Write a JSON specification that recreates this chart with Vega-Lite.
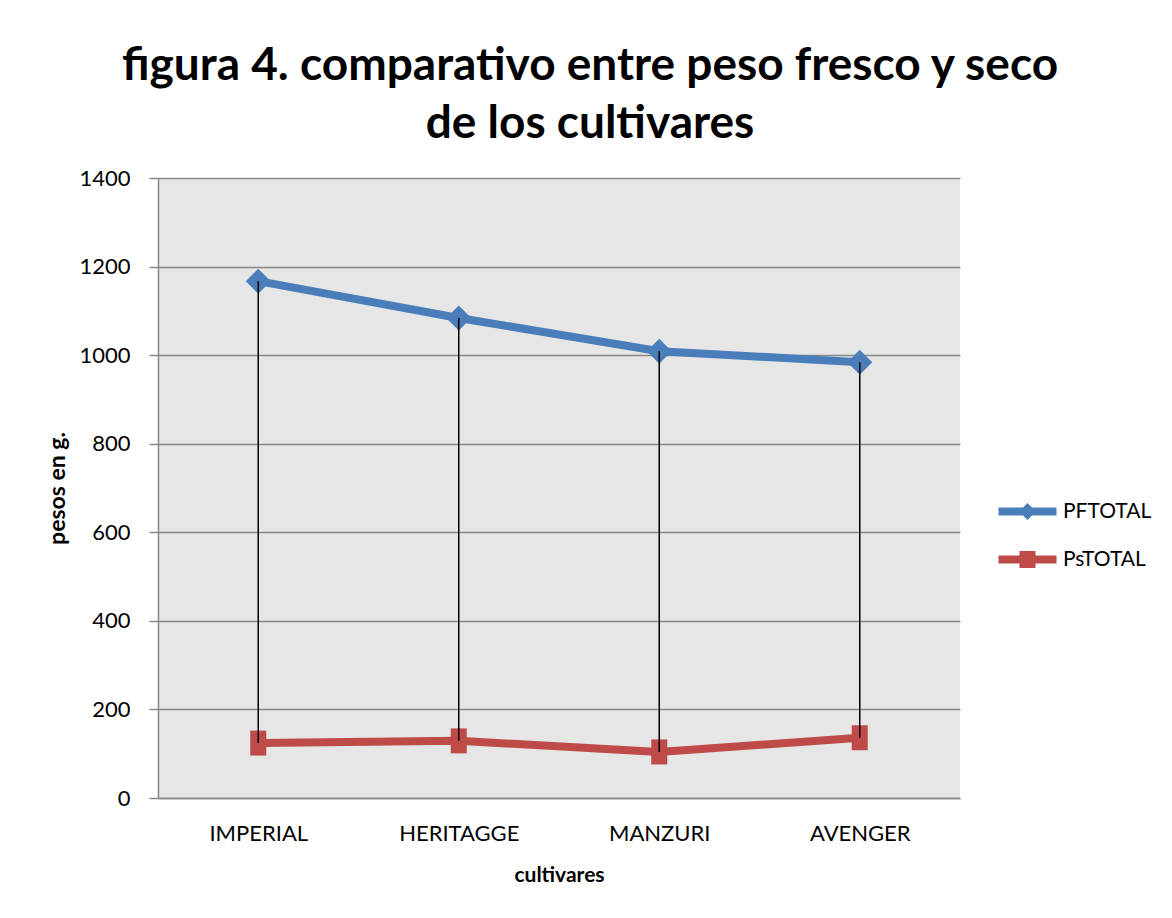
{
  "$schema": "https://vega.github.io/schema/vega-lite/v6.json",
  "width": 802,
  "height": 620,
  "autosize": "none",
  "padding": {"left": 158, "top": 178, "right": 212, "bottom": 120},
  "background": "white",
  "config": {
    "view": {"fill": "#E6E6E6", "stroke": null},
    "font": "Lato",
    "legend": {
      "title": null,
      "orient": "none",
      "symbolSize": 400,
      "symbolStrokeWidth": 0,
      "symbolOpacity": 1,
      "labelFont": "Lato",
      "labelFontSize": 21,
      "labelColor": "black",
      "labelOffset": 25
    }
  },
  "title": {
    "text": ["figura 4. comparativo entre peso fresco y seco", "de los cultivares"],
    "font": "Lato",
    "fontSize": 46,
    "fontWeight": "bold",
    "color": "black",
    "anchor": "middle",
    "dx": 31,
    "lineHeight": 58,
    "offset": 19
  },
  "data": {
    "values": [
      {"cultivar": "IMPERIAL", "PFTOTAL": 1167, "PsTOTAL": 124},
      {"cultivar": "HERITAGGE", "PFTOTAL": 1084, "PsTOTAL": 129},
      {"cultivar": "MANZURI", "PFTOTAL": 1009, "PsTOTAL": 104},
      {"cultivar": "AVENGER", "PFTOTAL": 984, "PsTOTAL": 136}
    ]
  },
  "encoding": {
    "x": {
      "field": "cultivar",
      "type": "nominal",
      "sort": null,
      "scale": {"type": "point", "padding": 0.5},
      "axis": {
        "title": "cultivares",
        "labelAngle": 0,
        "labelFont": "Lato",
        "labelFontSize": 22,
        "labelColor": "black",
        "labelPadding": 25,
        "ticks": false,
        "domainColor": "#888888",
        "domainWidth": 1.5,
        "titleFont": "Lato",
        "titleFontSize": 21,
        "titleFontWeight": "bold",
        "titleColor": "black",
        "titlePadding": 20
      }
    }
  },
  "layer": [
    {
      "mark": {"type": "line", "strokeWidth": 8},
      "encoding": {
        "y": {
          "field": "PFTOTAL",
          "type": "quantitative",
          "scale": {"domain": [0, 1400], "nice": false},
          "axis": {
            "values": [0, 200, 400, 600, 800, 1000, 1200, 1400],
            "format": "d",
            "grid": true,
            "gridColor": "#888888",
            "gridWidth": 1.5,
            "domainColor": "#888888",
            "domainWidth": 1.5,
            "tickColor": "#888888",
            "tickWidth": 1.5,
            "tickSize": 9,
            "labelFont": "Lato",
            "labelFontSize": 22,
            "labelColor": "black",
            "labelPadding": 19,
            "title": "pesos en g.",
            "titleFont": "Lato",
            "titleFontSize": 23,
            "titleFontWeight": "bold",
            "titleColor": "black",
            "titlePadding": 9
          }
        },
        "color": {
          "datum": "PFTOTAL",
          "type": "nominal",
          "scale": {"range": ["#4A7EBB"]},
          "legend": {
            "legendX": 859,
            "legendY": 323,
            "symbolType": "M-2.9,-0.4L-0.45,-0.4L0,-0.85L0.45,-0.4L2.9,-0.4L2.9,0.4L0.45,0.4L0,0.85L-0.45,0.4L-2.9,0.4Z",
            "symbolFillColor": "#4A7EBB",
            "symbolStrokeColor": "#4A7EBB"
          }
        }
      }
    },
    {
      "mark": {"type": "point", "filled": true, "opacity": 1, "size": 625, "shape": "diamond", "color": "#4A7EBB"},
      "encoding": {
        "y": {"field": "PFTOTAL", "type": "quantitative", "title": "pesos en g."}
      }
    },
    {
      "mark": {"type": "line", "strokeWidth": 8},
      "encoding": {
        "y": {"field": "PsTOTAL", "type": "quantitative", "title": "pesos en g."},
        "color": {
          "datum": "PsTOTAL",
          "type": "nominal",
          "scale": {"range": ["#BE4B48"]},
          "legend": {
            "legendX": 859,
            "legendY": 371,
            "symbolType": "M-2.9,-0.4L-0.8,-0.4L-0.8,-0.85L0.8,-0.85L0.8,-0.4L2.9,-0.4L2.9,0.4L0.8,0.4L0.8,0.85L-0.8,0.85L-0.8,0.4L-2.9,0.4Z",
            "symbolFillColor": "#BE4B48",
            "symbolStrokeColor": "#BE4B48"
          }
        }
      }
    },
    {
      "mark": {"type": "point", "filled": true, "opacity": 1, "size": 625, "shape": "M-0.64,-1L0.64,-1L0.64,1L-0.64,1Z", "color": "#BE4B48"},
      "encoding": {
        "y": {"field": "PsTOTAL", "type": "quantitative", "title": "pesos en g."}
      }
    },
    {
      "mark": {"type": "rule", "color": "black", "strokeWidth": 1.5},
      "encoding": {
        "y": {"field": "PFTOTAL", "type": "quantitative", "title": "pesos en g."},
        "y2": {"field": "PsTOTAL"}
      }
    }
  ],
  "resolve": {"scale": {"color": "independent"}, "legend": {"color": "independent"}}
}
